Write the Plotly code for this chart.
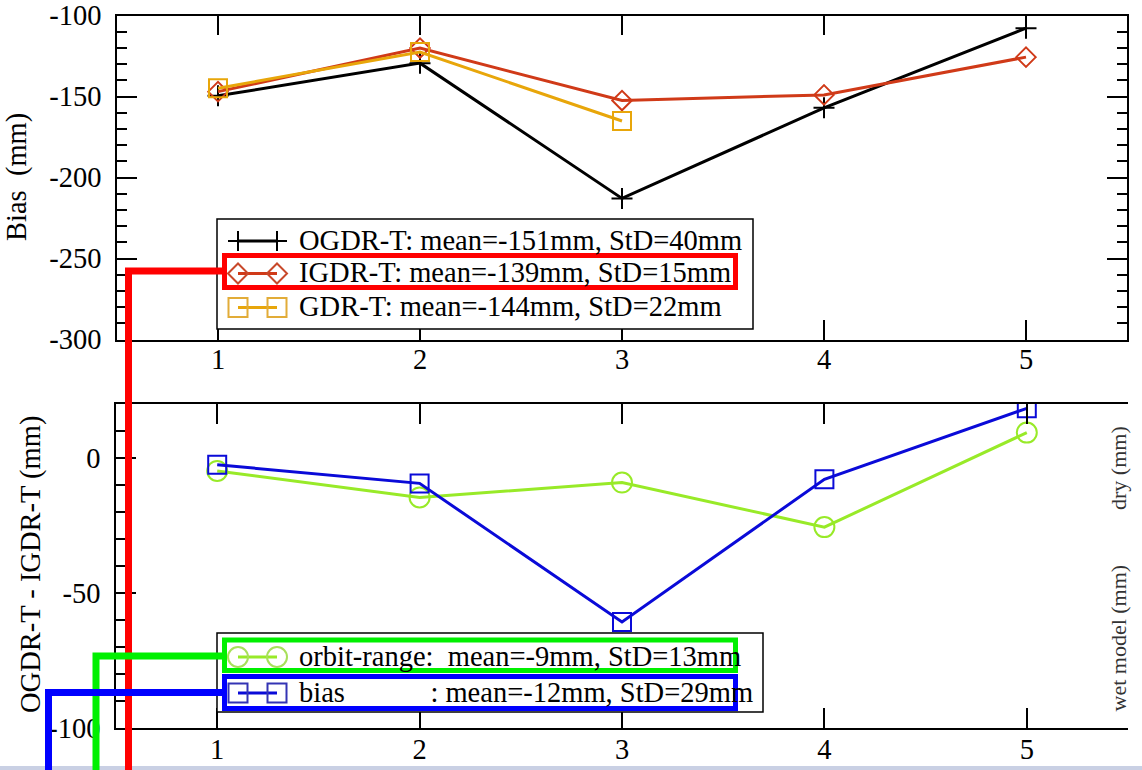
import plotly.graph_objects as go

W, H = 1142, 770

# ---- data ----
cycles = [1, 2, 3, 4, 5]
ogdr_bias = [-149.6, -129.4, -212.9, -157.0, -107.8]
igdr_bias = [-147.0, -120.1, -152.5, -149.0, -125.7]
gdr_cycles = [1, 2, 3]
gdr_bias = [-144.9, -122.6, -165.1]

orbit_range = [-4.8, -14.6, -9.1, -25.6, 9.4]
bias_diff = [-2.5, -9.4, -60.7, -7.9, 18.4]

top_yticks = [-300, -250, -200, -150, -100]
top_yticklabels = ["-300", "-250", "-200", "-150", "-100"]
bot_yticks = [-100, -50, 0]
bot_yticklabels = ["-100", "-50", "0"]
xticks = [1, 2, 3, 4, 5]
xticklabels = ["1", "2", "3", "4", "5"]

names_top = ["OGDR-T: mean=-151mm, StD=40mm",
             "IGDR-T: mean=-139mm, StD=15mm",
             "GDR-T: mean=-144mm, StD=22mm"]
names_bot = ["orbit-range:\u00a0\u00a0mean=-9mm, StD=13mm",
             "bias" + "\u00a0" * 12 + ": mean=-12mm, StD=29mm"]

FONT = "Liberation Serif, Times New Roman, Times, serif"
FS = 28.5

COL_OGDR = ("black", "black")
COL_IGDR = ("#d03a18", "#c8482a")
COL_GDR = ("#e8a60a", "#e2ac38")
COL_ORB = ("#98ea28", "#a8e05a")
COL_BIAS = ("#0a0ad8", "#3434b4")


def px(x):
    return x / W


def py(y):
    return 1 - y / H


fig = go.Figure()

fig.add_trace(go.Scatter(x=cycles, y=ogdr_bias, mode="lines+markers", name=names_top[0],
                         line=dict(color=COL_OGDR[0], width=3),
                         marker=dict(symbol="cross-thin-open", size=15,
                                     line=dict(color=COL_OGDR[1], width=2)),
                         xaxis="x", yaxis="y"))
fig.add_trace(go.Scatter(x=cycles, y=igdr_bias, mode="lines+markers", name=names_top[1],
                         line=dict(color=COL_IGDR[0], width=3),
                         marker=dict(symbol="diamond-open", size=15,
                                     line=dict(color=COL_IGDR[1], width=2)),
                         xaxis="x", yaxis="y"))
fig.add_trace(go.Scatter(x=gdr_cycles, y=gdr_bias, mode="lines+markers", name=names_top[2],
                         line=dict(color=COL_GDR[0], width=3),
                         marker=dict(symbol="square-open", size=18,
                                     line=dict(color=COL_GDR[1], width=2)),
                         xaxis="x", yaxis="y"))
fig.add_trace(go.Scatter(x=cycles, y=orbit_range, mode="lines+markers", name=names_bot[0],
                         line=dict(color=COL_ORB[0], width=3),
                         marker=dict(symbol="circle-open", size=20,
                                     line=dict(color=COL_ORB[1], width=2)),
                         xaxis="x2", yaxis="y2"))
fig.add_trace(go.Scatter(x=cycles, y=bias_diff, mode="lines+markers", name=names_bot[1],
                         line=dict(color=COL_BIAS[0], width=3),
                         marker=dict(symbol="square-open", size=18,
                                     line=dict(color=COL_BIAS[1], width=2)),
                         xaxis="x2", yaxis="y2"))

axis_common = dict(showline=True, linecolor="black", linewidth=1.5, ticks="inside",
                   tickcolor="black", tickwidth=1.5, ticklen=20, showgrid=False,
                   zeroline=False, automargin=False,
                   tickfont=dict(family=FONT, size=FS, color="black"))
minor = dict(dtick=10, tick0=0, ticks="inside", ticklen=10, tickwidth=1.5,
             tickcolor="black")

fig.update_layout(
    width=W, height=H,
    margin=dict(l=0, r=0, t=0, b=0, autoexpand=False),
    paper_bgcolor="white", plot_bgcolor="white",
    font=dict(family=FONT, size=FS, color="black"),
    showlegend=False,
    xaxis=dict(domain=[px(117), px(1127)], range=[0.5, 5.5], anchor="y",
               tickvals=xticks, ticktext=xticklabels, mirror="ticks",
               ticklabelstandoff=-6, **axis_common),
    yaxis=dict(domain=[py(339.5), py(15.5)], range=[-300, -100], anchor="x",
               tickvals=top_yticks, ticktext=top_yticklabels, mirror="ticks",
               minor=minor, ticklabelstandoff=8, **axis_common),
    xaxis2=dict(domain=[px(116), px(1128)], range=[0.5, 5.5], anchor="y2",
                tickvals=xticks, ticktext=xticklabels, mirror="ticks",
                ticklabelstandoff=-5, **axis_common),
    yaxis2=dict(domain=[py(728), py(404)], range=[-100, 20], anchor="x2",
                tickvals=bot_yticks, ticktext=bot_yticklabels,
                minor=minor, ticklabelstandoff=8, **axis_common),
)

shapes = []
annotations = []

# bottom strip of the screenshot
shapes.append(dict(type="rect", xref="paper", yref="paper", x0=0, x1=1, y0=0, y1=py(766),
                   fillcolor="#c9d0e4", line=dict(width=0), layer="above"))


def legend_box(x0, x1, y0, y1):
    shapes.append(dict(type="rect", xref="paper", yref="paper",
                       x0=px(x0), x1=px(x1), y0=py(y1), y1=py(y0),
                       fillcolor="white", line=dict(color="black", width=1.5),
                       layer="above"))


def legend_item(yc, name, cols, symbol, size):
    xa, xb = 238, 277
    shapes.append(dict(type="line", xref="paper", yref="paper",
                       x0=px(xa), x1=px(xb), y0=py(yc), y1=py(yc),
                       line=dict(color=cols[0], width=3), layer="above"))
    h = size / 2
    for xc in (xa, xb):
        mline = dict(color=cols[1], width=2)
        if symbol == "circle":
            shapes.append(dict(type="circle", xref="paper", yref="paper",
                               x0=px(xc - h), x1=px(xc + h), y0=py(yc + h), y1=py(yc - h),
                               line=mline, layer="above"))
        else:
            if symbol == "cross":
                p = (f"M {px(xc - h)},{py(yc)} L {px(xc + h)},{py(yc)} "
                     f"M {px(xc)},{py(yc - h)} L {px(xc)},{py(yc + h)}")
            elif symbol == "diamond":
                p = (f"M {px(xc - h)},{py(yc)} L {px(xc)},{py(yc - h)} "
                     f"L {px(xc + h)},{py(yc)} L {px(xc)},{py(yc + h)} Z")
            else:
                p = (f"M {px(xc - h)},{py(yc - h)} L {px(xc + h)},{py(yc - h)} "
                     f"L {px(xc + h)},{py(yc + h)} L {px(xc - h)},{py(yc + h)} Z")
            shapes.append(dict(type="path", xref="paper", yref="paper", path=p,
                               line=mline, layer="above"))
    annotations.append(dict(text=name, x=px(297), y=py(yc - 1), xref="paper", yref="paper",
                            xanchor="left", yanchor="middle", showarrow=False,
                            font=dict(family=FONT, size=FS, color="black")))


legend_box(217, 753, 219, 329)
legend_item(241, names_top[0], COL_OGDR, "cross", 20)
legend_item(273.5, names_top[1], COL_IGDR, "diamond", 20)
legend_item(307.5, names_top[2], COL_GDR, "square", 19)

legend_box(217, 763, 633, 712)
legend_item(657, names_bot[0], COL_ORB, "circle", 20)
legend_item(693, names_bot[1], COL_BIAS, "square", 19)

# highlight boxes and leader lines
for col, (y0, y1), ly, lx in [("#ff0000", (255.5, 287.5), 271, 128.5),
                              ("#00f000", (640, 670.5), 656, 96),
                              ("#0000ff", (676.5, 708.5), 692.5, 48.5)]:
    shapes.append(dict(type="rect", xref="paper", yref="paper",
                       x0=px(224.5), x1=px(735.5), y0=py(y1), y1=py(y0),
                       line=dict(color=col, width=5), layer="above"))
    shapes.append(dict(type="path", xref="paper", yref="paper",
                       path=f"M {px(224.5)},{py(ly)} L {px(lx)},{py(ly)} L {px(lx)},0",
                       line=dict(color=col, width=7), layer="above"))

# axis titles
annotations.append(dict(text="Bias\u00a0\u00a0(mm)", x=0, y=py(177), xref="paper",
                        yref="paper", xanchor="left", yanchor="middle",
                        showarrow=False, textangle=-90, borderpad=0,
                        font=dict(family=FONT, size=FS, color="black")))
annotations.append(dict(text="OGDR-T - IGDR-T (mm)", x=px(31), y=py(565), xref="paper",
                        yref="paper", xanchor="center", yanchor="middle",
                        showarrow=False, textangle=-90,
                        font=dict(family=FONT, size=FS, color="black")))

# cut-off labels from the neighbouring panel
annotations.append(dict(text="dry (mm)", x=px(1118), y=py(512), xref="paper", yref="paper",
                        xanchor="center", yanchor="bottom", showarrow=False, textangle=-90,
                        font=dict(family=FONT, size=22, color="#333333")))
annotations.append(dict(text="wet model (mm)", x=px(1118), y=py(714), xref="paper",
                        yref="paper", xanchor="center", yanchor="bottom", showarrow=False,
                        textangle=-90, font=dict(family=FONT, size=22, color="#333333")))

fig.update_layout(shapes=shapes, annotations=annotations)

fig.write_html("out.html")
